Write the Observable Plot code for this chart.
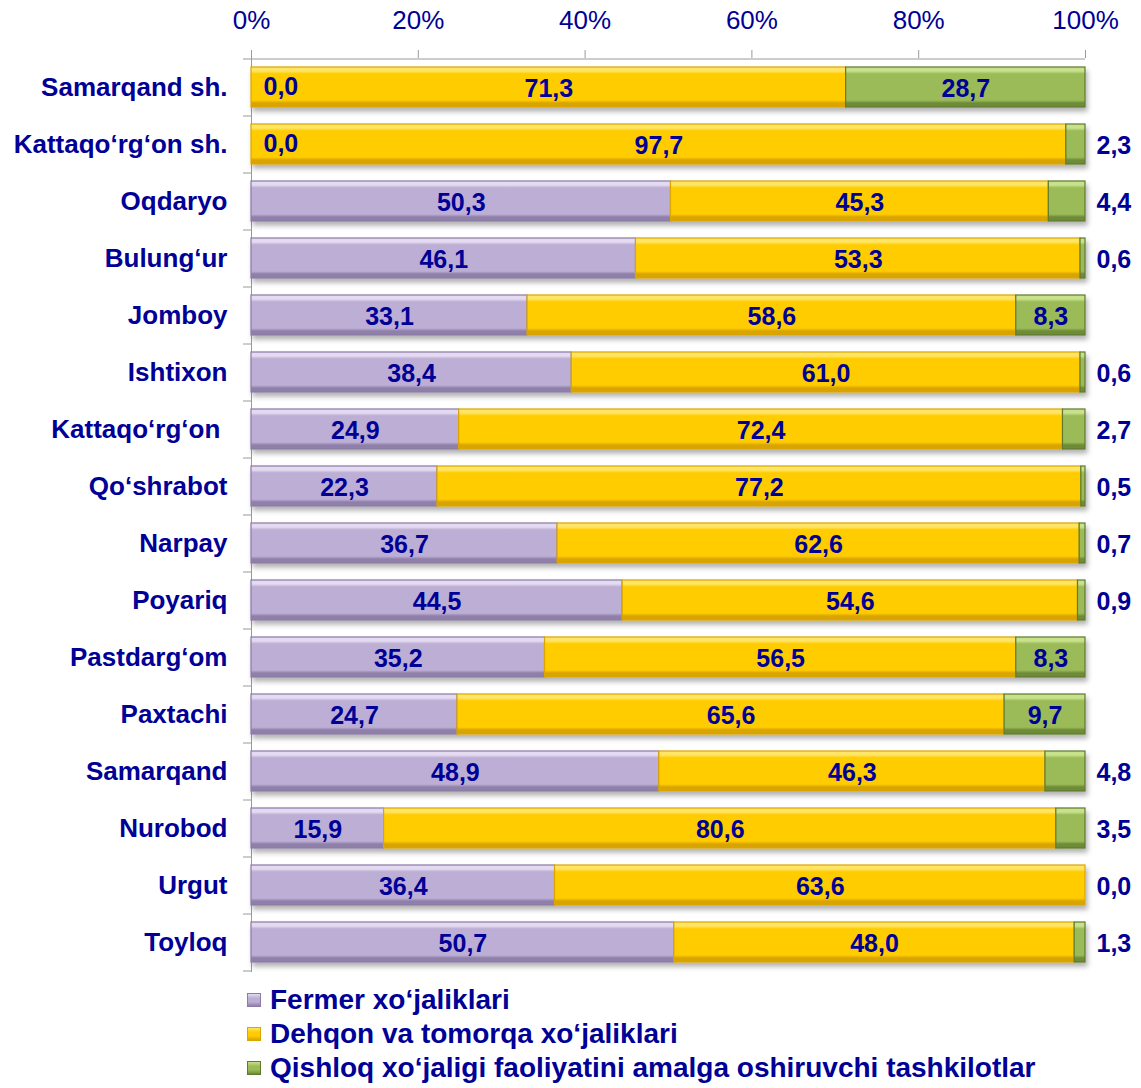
<!DOCTYPE html>
<html>
<head>
<meta charset="utf-8">
<script src="https://cdn.jsdelivr.net/npm/d3@7"></script>
<script src="https://cdn.jsdelivr.net/npm/@observablehq/plot@0.6"></script>
<style>
  html, body { margin: 0; padding: 0; background: #fff; }
  body { width: 1141px; font-family: "Liberation Sans", Arial, sans-serif; }
  #legend { padding: 8px 0 0 247px; }
  .item { display: flex; align-items: center; height: 34px; font-weight: bold; font-size: 28px; color: #000096; }
  .sw { width: 14px; height: 14px; margin-right: 9px; box-sizing: border-box; }
</style>
</head>
<body>
<div id="chart"></div>
<div id="legend"></div>
<script>
const categories = ["Samarqand sh.", "Kattaqo‘rg‘on sh.", "Oqdaryo", "Bulung‘ur", "Jomboy", "Ishtixon", "Kattaqo‘rg‘on\u00a0", "Qo‘shrabot", "Narpay", "Poyariq", "Pastdarg‘om", "Paxtachi", "Samarqand", "Nurobod", "Urgut", "Toyloq"];
const seriesNames = ["Fermer xo‘jaliklari", "Dehqon va tomorqa xo‘jaliklari", "Qishloq xo‘jaligi faoliyatini amalga oshiruvchi tashkilotlar"];
const fermer  = [0.0, 0.0, 50.3, 46.1, 33.1, 38.4, 24.9, 22.3, 36.7, 44.5, 35.2, 24.7, 48.9, 15.9, 36.4, 50.7];
const dehqon  = [71.3, 97.7, 45.3, 53.3, 58.6, 61.0, 72.4, 77.2, 62.6, 54.6, 56.5, 65.6, 46.3, 80.6, 63.6, 48.0];
const qishloq = [28.7, 2.3, 4.4, 0.6, 8.3, 0.6, 2.7, 0.5, 0.7, 0.9, 8.3, 9.7, 4.8, 3.5, 0.0, 1.3];
const xTicks = [0, 0.2, 0.4, 0.6, 0.8, 1];

const seriesValues = [fermer, dehqon, qishloq];
const ink = "#000096";
const gradIds = ["gF", "gD", "gQ"];
const palette = [
  {top: "#e4dbf2", base: "#bcaed4", bot: "#8f80aa", stroke: "#8a7aa5"},
  {top: "#ffe566", base: "#ffcc00", bot: "#d9a400", stroke: "#dba600"},
  {top: "#c8e28c", base: "#9bbb59", bot: "#6e8b37", stroke: "#5f7a2d"}
];

// 100% stacked rows
const rows = [];
categories.forEach((cat, i) => {
  const total = seriesValues.reduce((s, arr) => s + arr[i], 0);
  let acc = 0;
  seriesValues.forEach((arr, k) => {
    const v = arr[i];
    const x1 = acc / total;
    acc += v;
    const x2 = acc / total;
    rows.push({cat, series: seriesNames[k], k, value: v, x1, x2, mid: (x1 + x2) / 2, label: v.toFixed(1).replace(".", ",")});
  });
});

const inside = d => (d.k === 0 && d.value > 0) || d.k === 1 || (d.k === 2 && d.value >= 8);
const outsideEnd = d => d.k === 2 && d.value < 8;
const zeroStart = d => d.k === 0 && d.value === 0;

const chart = Plot.plot({
  width: 1141,
  height: 975,
  marginLeft: 251,
  marginRight: 56,
  marginTop: 57,
  marginBottom: 3,
  style: {fontFamily: "'Liberation Sans', Arial, sans-serif", color: ink, background: "#fff"},
  x: {domain: [0, 1], axis: null},
  y: {domain: categories, paddingInner: 0.3, paddingOuter: 0.15, axis: null},
  color: {domain: seriesNames, range: gradIds.map(id => `url(#${id})`)},
  marks: [
    // top axis
    Plot.axisX(xTicks, {anchor: "top", tickFormat: d3.format(".0%"), tickSize: 8, tickPadding: 21, fontSize: 26, stroke: "#9a9a9a", fill: ink, label: null}),
    Plot.ruleY([categories[0]], {x1: 0, x2: 1, dy: -28.5, stroke: "#9a9a9a"}),
    // y axis line and boundary ticks
    Plot.ruleX([0], {stroke: "#9a9a9a"}),
    Plot.ruleY(categories, {x1: -0.0096, x2: 0, dy: -28.5, stroke: "#9a9a9a"}),
    Plot.ruleY([categories[categories.length - 1]], {x1: -0.0096, x2: 0, dy: 28.5, stroke: "#9a9a9a"}),
    Plot.axisY({anchor: "left", tickSize: 0, tickPadding: 24, fontSize: 26, fontWeight: "bold", fill: ink, label: null}),
    // bars
    Plot.barX(rows, {x1: "x1", x2: "x2", y: "cat", fill: "series", stroke: d => palette[d.k].stroke, strokeWidth: 1.2, inset: 0}),
    // labels
    Plot.text(rows.filter(inside), {x: "mid", y: "cat", text: "label", fontSize: 25, fontWeight: "bold", fill: ink, dy: 1}),
    Plot.text(rows.filter(outsideEnd), {x: 1, y: "cat", text: "label", fontSize: 25, fontWeight: "bold", fill: ink, textAnchor: "start", dx: 11, dy: 1}),
    Plot.text(rows.filter(zeroStart), {x: 0, y: "cat", text: "label", fontSize: 25, fontWeight: "bold", fill: ink, textAnchor: "start", dx: 12, dy: -1})
  ]
});

// gradients + shadow
const ns = "http://www.w3.org/2000/svg";
const defs = document.createElementNS(ns, "defs");
let defsHTML = "";
palette.forEach((p, i) => {
  defsHTML += `<linearGradient id="${gradIds[i]}" x1="0" y1="0" x2="0" y2="1">
    <stop offset="0" stop-color="${p.top}"/>
    <stop offset="0.1" stop-color="${p.top}"/>
    <stop offset="0.17" stop-color="${p.base}"/>
    <stop offset="0.83" stop-color="${p.base}"/>
    <stop offset="0.9" stop-color="${p.bot}"/>
    <stop offset="1" stop-color="${p.bot}"/>
  </linearGradient>`;
});
defsHTML += `<filter id="shadow" x="-5%" y="-20%" width="110%" height="160%">
  <feDropShadow dx="2" dy="4" stdDeviation="2.5" flood-color="#000" flood-opacity="0.3"/>
</filter>`;
defs.innerHTML = defsHTML;
chart.insertBefore(defs, chart.firstChild);
chart.querySelectorAll('g[aria-label="bar"]').forEach(g => g.setAttribute("filter", "url(#shadow)"));

document.getElementById("chart").appendChild(chart);

// legend
const legend = d3.select("#legend");
seriesNames.forEach((name, i) => {
  const p = palette[i];
  const item = legend.append("div").attr("class", "item");
  item.append("div").attr("class", "sw")
    .style("background", `linear-gradient(${p.top} 0%, ${p.base} 35%, ${p.base} 65%, ${p.bot} 100%)`)
    .style("border", `1px solid ${p.stroke}`);
  item.append("span").text(name);
});
</script>
</body>
</html>
